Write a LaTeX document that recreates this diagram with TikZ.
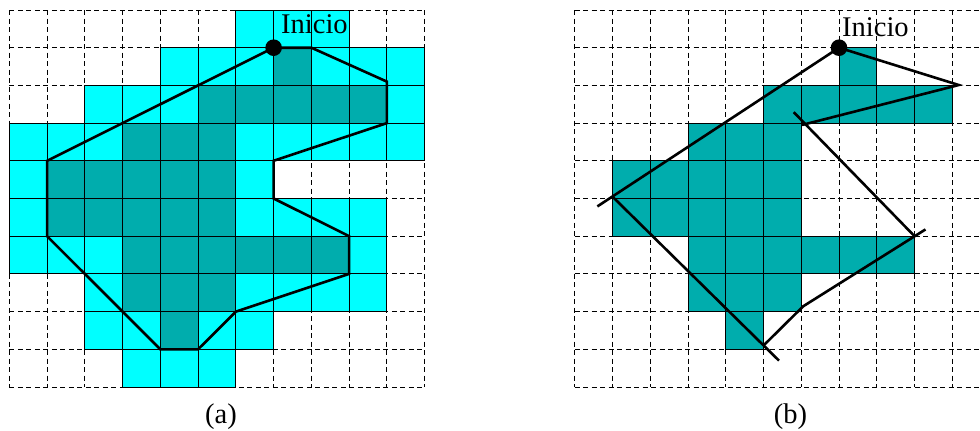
\documentclass[tikz,border=0pt]{standalone}
\usepackage{fontspec}
\setmainfont{Liberation Serif}
\definecolor{cyanfill}{RGB}{0,255,255}
\definecolor{tealfill}{RGB}{0,173,173}
\begin{document}
\begin{tikzpicture}[x=1pt,y=-1pt,
  gridline/.style={line width=0.9pt, dash pattern=on 5pt off 3.5pt},
  cellA/.style={fill=cyanfill, draw=black, line width=0.9pt},
  cellB/.style={fill=tealfill, draw=black, line width=0.9pt},
  hull/.style={line width=2.6pt, line join=miter},
  startdot/.style={circle, fill=black, inner sep=0pt, minimum size=16.6pt},
  lbl/.style={font=\fontsize{28.5}{30}\selectfont, inner sep=0pt}]
\useasboundingbox (0,0) rectangle (980,431);
\clip (0,0) rectangle (980,431);

% ---------------- (a) ----------------
\begin{scope}[shift={(9.3pt,-10pt)}, x=37.76pt, y=-37.7pt]
  \foreach \i in {0,...,11} \draw[gridline] (\i,0) -- (\i,10);
  \foreach \j in {0,...,10} \draw[gridline] (0,\j) -- (11,\j);
  \foreach \j/\a/\b in {0/6/8,1/4/10,2/2/10,3/0/10,4/0/6,5/0/9,6/0/9,7/2/9,8/2/6,9/3/5}
    \foreach \i in {\a,...,\b} \path[cellA] (\i,\j) rectangle ++(1,1);
  \foreach \j/\a/\b in {1/7/7,2/5/9,3/3/5,4/1/5,5/1/5,6/3/8,7/3/5,8/4/4}
    \foreach \i in {\a,...,\b} \path[cellB] (\i,\j) rectangle ++(1,1);
  \coordinate (a1) at (7,1);
  \coordinate (a2) at (8,1);
  \coordinate (a3) at (10,1.9);
  \coordinate (a4) at (10,3);
  \coordinate (a5) at (7,4);
  \coordinate (a6) at (7,5);
  \coordinate (a7) at (9,6);
  \coordinate (a8) at (9,7);
  \coordinate (a9) at (6,8);
  \coordinate (a10) at (5,9);
  \coordinate (a11) at (4,9);
  \coordinate (a12) at (1,6);
  \coordinate (a13) at (1,4);
  \draw[hull] (a1) -- (a2) -- (a3) -- (a4) -- (a5) -- (a6) -- (a7) -- (a8)
    -- (a9) -- (a10) -- (a11) -- (a12) -- (a13) -- cycle;
  \node[startdot] (sa) at (a1) {};
\end{scope}
\node[lbl, anchor=base west] (ta) at (281,33.5) {Inicio};
\node[lbl, anchor=base] (capa) at (221,423) {(a)};

% ---------------- (b) ----------------
\begin{scope}[shift={(574.7pt,-10pt)}, x=37.76pt, y=-37.7pt]
  \foreach \i in {0,...,11} \draw[gridline] (\i,0) -- (\i,10);
  \foreach \j in {0,...,10} \draw[gridline] (0,\j) -- (11,\j);
  \foreach \j/\a/\b in {1/7/7,2/5/9,3/3/5,4/1/5,5/1/5,6/3/8,7/3/5,8/4/4}
    \foreach \i in {\a,...,\b} \path[cellB] (\i,\j) rectangle ++(1,1);
  \coordinate (b1) at (7,1);
  \coordinate (b2) at (10.17,1.99);
  \coordinate (b3) at (6.02,3.05);
  \coordinate (b4s) at (5.8,2.71);
  \coordinate (b4) at (9,6);
  \coordinate (b5s) at (9.29,5.82);
  \coordinate (b5) at (6.05,7.86);
  \coordinate (b6) at (5,8.9);
  \coordinate (b6e) at (5.41,9.3);
  \coordinate (b7) at (1,4.95);
  \coordinate (b7e) at (0.6,5.21);
  \draw[hull] (b7e) -- (b1);
  \draw[hull] (b1) -- (b2) -- (b3);
  \draw[hull] (b4s) -- (b4);
  \draw[hull] (b5s) -- (b5) -- (b6);
  \draw[hull] (b6e) -- (b7);
  \node[startdot] (sb) at (b1) {};
\end{scope}
\node[lbl, anchor=base west] (tb) at (842,36.5) {Inicio};
\node[lbl, anchor=base] (capb) at (790.5,423) {(b)};
\end{tikzpicture}
\end{document}
